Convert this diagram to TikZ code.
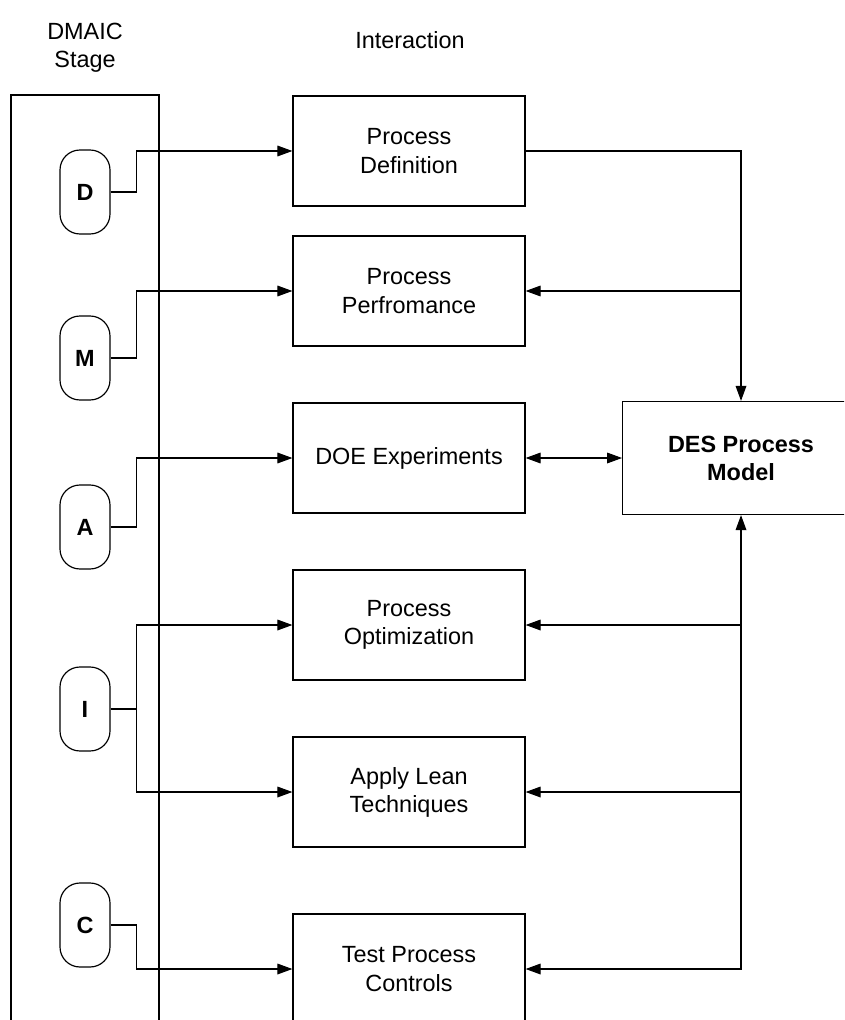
\documentclass[tikz,border=0pt]{standalone}
\usepackage{fontspec}
\setmainfont{Liberation Sans}
\usetikzlibrary{arrows.meta}

\begin{document}
\begin{tikzpicture}[x=0.03cm,y=-0.03cm,line width=1pt,
  font=\fontsize{20}{24}\selectfont,
  stage/.style={draw,rounded corners=0.6cm,minimum width=1.5cm,minimum height=2.52cm,font=\fontsize{20}{24}\selectfont\bfseries},
  stepbox/.style={draw,minimum width=6.96cm,minimum height=3.3cm,align=center},
  conn/.style={-{Triangle[length=0.45cm,width=0.32cm]}},
  conn2/.style={{Triangle[length=0.45cm,width=0.32cm]}-{Triangle[length=0.45cm,width=0.32cm]}}]
\useasboundingbox (0,0) rectangle (844,1020);
\clip (0,0) rectangle (844,1020);
\node[align=center] (dmaic) at (85,48) {DMAIC\\Stage};
\node (inter) at (410,40) {Interaction};
\draw (11,1040) -- (11,95) -- (159,95) -- (159,1040);
\node[stage] (stD) at (85,192) {D};
\node[stage] (stM) at (85,358) {M};
\node[stage] (stA) at (85,527) {A};
\node[stage] (stI) at (85,709) {I};
\node[stage] (stC) at (85,925) {C};
\node[stepbox] (pdef) at (409,151) {Process\\Definition};
\node[stepbox] (pperf) at (409,291) {Process\\Perfromance};
\node[stepbox] (doe) at (409,458) {DOE Experiments};
\node[stepbox] (popt) at (409,625) {Process\\Optimization};
\node[stepbox] (lean) at (409,792) {Apply Lean\\Techniques};
\node[stepbox] (test) at (409,969) {Test Process\\Controls};
\node[draw,minimum width=7.1cm,minimum height=3.39cm,align=center,font=\fontsize{20}{24}\selectfont\bfseries] (des) at (741,458) {DES Process\\Model};
\draw[conn] (stD.east) -- ++(26,0) |- (pdef.west);
\draw[conn] (stM.east) -- ++(26,0) |- (pperf.west);
\draw[conn] (stA.east) -- ++(26,0) |- (doe.west);
\draw[conn] (stI.east) -- ++(26,0) coordinate (iJ) |- (popt.west);
\draw[conn] (iJ) |- (lean.west);
\draw[conn] (stC.east) -- ++(26,0) |- (test.west);
\draw[conn] (pdef.east) -| (des.north);
\draw[conn] (des.north |- pperf.east) -- (pperf.east);
\draw[conn2] (doe.east) -- (des.west);
\draw[conn2] (test.east) -| (des.south);
\draw[conn] (des.south |- popt.east) -- (popt.east);
\draw[conn] (des.south |- lean.east) -- (lean.east);
\end{tikzpicture}
\end{document}
